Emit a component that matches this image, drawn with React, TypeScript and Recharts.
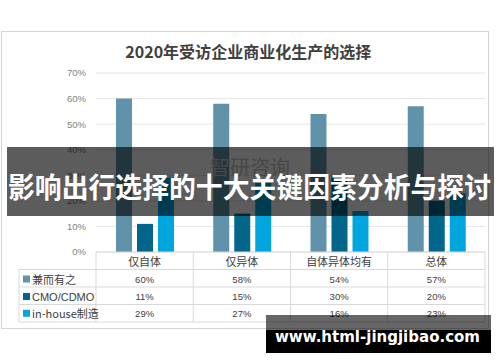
import React from 'react';
import { BarChart, Bar, XAxis, YAxis, CartesianGrid } from 'recharts';

const categories = ['仅自体', '仅异体', '自体异体均有', '总体'];
const seriesNames = ['兼而有之', 'CMO/CDMO', 'in-house制造'];
const bothValues = [60, 58, 54, 57];
const cmoValues = [11, 15, 30, 20];
const inhouseValues = [29, 27, 16, 23];
const yTicks = [0, 10, 20, 30, 40, 50, 60, 70];

const colors = ['#6092aa', '#02668b', '#00a6dd'];
const seriesKeys = ['both', 'cmo', 'inhouse'];
const seriesValues = [bothValues, cmoValues, inhouseValues];

const data = categories.map((c, i) => ({
  cat: c,
  both: bothValues[i],
  cmo: cmoValues[i],
  inhouse: inhouseValues[i],
}));

const W = 500;
const H = 362;
const plotLeft = 96;
const plotRight = 485;
const plotTop = 73;
const plotBottom = 252;
const rowLines = [252, 269.5, 287, 304.5, 322];
const rowCenters = [260.7, 279, 296.5, 313.3];
const FONT = '"Liberation Sans", "Noto Sans CJK SC", sans-serif';
const CJK = '"Noto Sans CJK SC", "Liberation Sans", sans-serif';

const TableTick = (props: any) => {
  const { x, y, index, payload } = props;
  const i = index as number;
  return (
    <g>
      <text
        x={x}
        y={y + (rowCenters[0] - plotBottom)}
        textAnchor="middle"
        dominantBaseline="central"
        fontSize={11}
        fill="#404040"
        fontFamily={CJK}
      >
        {payload.value}
      </text>
      {seriesValues.map((vals, s) => (
        <text
          key={s}
          x={x}
          y={y + (rowCenters[s + 1] - plotBottom)}
          textAnchor="middle"
          dominantBaseline="central"
          fontSize={9.5}
          fill="#404040"
          fontFamily={FONT}
        >
          {vals[i] + '%'}
        </text>
      ))}
    </g>
  );
};

export default function App() {
  const colW = (plotRight - plotLeft) / categories.length;
  return (
    <div style={{ position: 'relative', width: W, height: H, background: '#fff' }}>
      <style>{`body{margin:0;}`}</style>
      <svg width={W} height={H} style={{ position: 'absolute', left: 0, top: 0 }}>
        <rect x={1.5} y={31.5} width={487} height={297} fill="#fff" stroke="#d4d4d4" strokeWidth={1} />
        <text
          x={125.3}
          y={50.7}
          dominantBaseline="central"
          fontSize={16}
          fontWeight="bold"
          fill="#404040"
          fontFamily={CJK}
          textLength={246}
          lengthAdjust="spacingAndGlyphs"
        >
          2020年受访企业商业化生产的选择
        </text>
      </svg>
      <div style={{ position: 'absolute', left: 0, top: 0 }}>
        <BarChart
          width={W}
          height={H}
          data={data}
          margin={{ top: plotTop, right: W - plotRight, left: plotLeft - 40, bottom: H - plotBottom - 70 }}
          barGap={5}
          barSize={16}
        >
          <CartesianGrid vertical={false} stroke="#e6e6e6" />
          <YAxis
            width={40}
            domain={[0, 70]}
            ticks={yTicks}
            interval={0}
            axisLine={false}
            tickLine={false}
            tickSize={0}
            tickMargin={10}
            tickFormatter={(v: number) => v + '%'}
            tick={{ fontSize: 9.5, fill: '#808080', fontFamily: FONT }}
          />
          <XAxis
            dataKey="cat"
            height={70}
            axisLine={false}
            tickLine={false}
            tickSize={0}
            tickMargin={0}
            interval={0}
            tick={<TableTick />}
          />
          {seriesKeys.map((k, s) => (
            <Bar key={k} dataKey={k} name={seriesNames[s]} fill={colors[s]} isAnimationActive={false} />
          ))}
        </BarChart>
      </div>
      <svg width={W} height={H} style={{ position: 'absolute', left: 0, top: 0, pointerEvents: 'none' }}>
        {/* table lines */}
        <line x1={plotLeft} x2={plotRight} y1={rowLines[0]} y2={rowLines[0]} stroke="#d9d9d9" />
        {rowLines.slice(1).map((y, i) => (
          <line key={i} x1={19} x2={plotRight} y1={y} y2={y} stroke="#d9d9d9" />
        ))}
        <line x1={19} x2={19} y1={rowLines[1]} y2={rowLines[4]} stroke="#d9d9d9" />
        {categories.map((_, i) => (
          <line
            key={i}
            x1={plotLeft + colW * i}
            x2={plotLeft + colW * i}
            y1={rowLines[0]}
            y2={rowLines[4]}
            stroke="#d9d9d9"
          />
        ))}
        <line x1={plotRight} x2={plotRight} y1={rowLines[0]} y2={rowLines[4]} stroke="#d9d9d9" />
        {seriesNames.map((n, s) => (
          <g key={n}>
            <rect x={23} y={rowCenters[s + 1] - 3.5} width={7} height={7} fill={colors[s]} />
            <text
              x={32}
              y={rowCenters[s + 1]}
              dominantBaseline="central"
              fontSize={11}
              fill="#404040"
              fontFamily={s === 1 ? FONT : CJK}
            >
              {n}
            </text>
          </g>
        ))}
        {/* faint watermark */}
        <text x={210} y={166} dominantBaseline="central" fontSize={20} fill="#c4c4c4" fontFamily={CJK}>
          智研咨询
        </text>
        {/* banner */}
        <rect x={7} y={147} width={487} height={69} fill="rgba(0,0,0,0.64)" />
        <text
          x={8}
          y={186}
          dominantBaseline="central"
          fontSize={28}
          fontWeight="bold"
          fill="#fff"
          fontFamily={CJK}
          textLength={483}
          lengthAdjust="spacingAndGlyphs"
        >
          影响出行选择的十大关键因素分析与探讨
        </text>
        {/* url watermark */}
        <rect x={266} y={315} width={225} height={15} fill="rgba(0,0,0,0.6)" />
        <rect x={266} y={330} width={225} height={23} fill="#000" />
        <text
          x={275}
          y={341.5}
          fontSize={16}
          fontWeight="bold"
          fill="#fff"
          fontFamily='"DejaVu Sans", sans-serif'
          textLength={205}
          lengthAdjust="spacingAndGlyphs"
        >
          www.html-jingjibao.com
        </text>
      </svg>
    </div>
  );
}
